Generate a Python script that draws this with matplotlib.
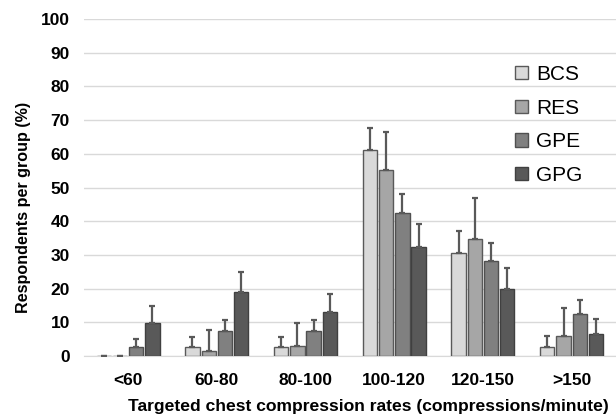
import numpy as np
import matplotlib
matplotlib.use("Agg")
import matplotlib.pyplot as plt

plt.rcParams['font.family'] = ['Liberation Sans', 'DejaVu Sans']

categories = ['<60', '60-80', '80-100', '100-120', '120-150', '>150']
groups = ['BCS', 'RES', 'GPE', 'GPG']

bcs = [0, 2.7, 2.7, 61.2, 30.7, 2.8]
res = [0, 1.5, 3.0, 55.3, 34.8, 5.8]
gpe = [2.7, 7.4, 7.4, 42.3, 28.2, 12.5]
gpg = [9.8, 19.0, 13.0, 32.4, 20.0, 6.5]

# upper error (sd)
bcs_err = [0, 2.9, 2.9, 6.4, 6.5, 3.0]
res_err = [0, 6.1, 6.8, 11.1, 12.1, 8.3]
gpe_err = [2.3, 3.4, 3.4, 5.7, 5.3, 4.1]
gpg_err = [4.9, 5.8, 5.5, 6.9, 6.2, 4.5]

values = [bcs, res, gpe, gpg]
errors = [bcs_err, res_err, gpe_err, gpg_err]
colors = ['#d9d9d9', '#a6a6a6', '#808080', '#595959']
edges = ['#595959', '#595959', '#505050', '#404040']

fig = plt.figure(figsize=(6.16, 4.18), dpi=100)
ax = fig.add_axes([0.136, 0.1483, 0.864, 0.8062])

x = np.arange(len(categories))
width = 0.162
pitch = 0.183
for i, g in enumerate(groups):
    pos = x + (i - 1.5) * pitch
    ax.bar(pos, values[i], width, color=colors[i], edgecolor=edges[i],
           linewidth=1.0, label=g, zorder=3)
    ax.errorbar(pos, values[i], yerr=[np.zeros(len(x)), errors[i]],
                fmt='none', ecolor='#595959', elinewidth=1.6, capsize=2.5,
                capthick=1.6, zorder=4)

ax.set_xlim(-0.5, 5.5)
ax.set_ylim(0, 100)
ax.set_yticks(np.arange(0, 101, 10))
ax.set_xticks(x)
ax.set_xticklabels(categories)
ax.grid(axis='y', color='#d9d9d9', linewidth=1.0, zorder=0)
for s in ['top', 'right', 'left']:
    ax.spines[s].set_visible(False)
ax.spines['bottom'].set_color('#d9d9d9')
ax.tick_params(length=0)
ax.tick_params(axis='x', pad=12)
ax.tick_params(axis='y', pad=10)
for lab in ax.get_xticklabels() + ax.get_yticklabels():
    lab.set_fontsize(12.5)
    lab.set_fontweight('bold')

fig.text(24 / 616, (418 - 207.5) / 418, 'Respondents per group (%)',
         rotation=90, ha='center', va='center', fontsize=11.6, fontweight='bold')
fig.text(368 / 616, (418 - 407) / 418,
         'Targeted chest compression rates (compressions/minute)',
         ha='center', va='center', fontsize=12.6, fontweight='bold')

leg = ax.legend(loc='upper left', bbox_to_anchor=(0.806, 0.889),
                bbox_transform=fig.transFigure, frameon=False, fontsize=15,
                handlelength=0.6, handleheight=0.6, handletextpad=0.4,
                labelspacing=0.7)

fig.savefig('out.png', dpi=100)
